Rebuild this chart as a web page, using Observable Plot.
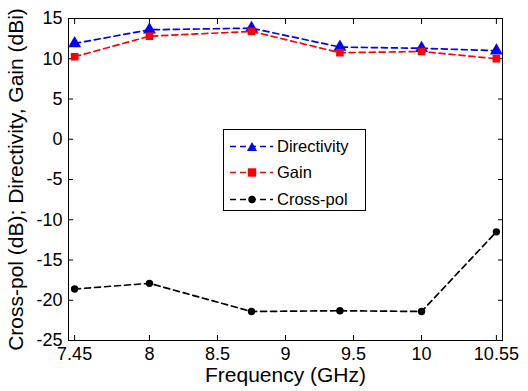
<!DOCTYPE html>
<html><head><meta charset="utf-8">
<script src="https://cdn.jsdelivr.net/npm/d3@7"></script>
<script src="https://cdn.jsdelivr.net/npm/@observablehq/plot@0.6"></script>
<style>
body{margin:0;background:#fff;font-family:"Liberation Sans",Arial,Helvetica,sans-serif;}
#wrap{position:relative;width:528px;height:391px;}
#legend{position:absolute;left:223px;top:129px;width:141px;height:80px;border:1px solid #000;background:#fff;font-size:16.5px;}
.row{position:absolute;left:0;height:20px;display:flex;align-items:center;}
.row svg{margin-left:6px;}
.row span{margin-left:4px;color:#000;}
</style>
</head><body>
<div id="wrap"><div id="legend"></div></div>
<script>
const freq = [7.45, 8, 8.75, 9.4, 10, 10.55];
const directivity = [11.9, 13.6, 13.8, 11.45, 11.3, 11.0];
const gain = [10.25, 12.8, 13.4, 10.75, 10.9, 10.0];
const crossPol = [-18.6, -17.9, -21.4, -21.3, -21.4, -11.5];
const xTicks = [7.45, 8, 8.5, 9, 9.5, 10, 10.55];
const yTicks = [-25, -20, -15, -10, -5, 0, 5, 10, 15];
const seriesNames = ["Directivity", "Gain", "Cross-pol"];
const seriesColors = ["#0000ff", "#ff0000", "#000000"];
const seriesSymbols = ["triangle", "square", "circle"];
const seriesValues = [directivity, gain, crossPol];

const data = seriesNames.flatMap((s, i) => freq.map((f, j) => ({series: s, f, v: seriesValues[i][j]})));
const dash = "6,4";
const marks = [];
seriesNames.forEach((s, i) => {
  const d = data.filter(r => r.series === s);
  marks.push(Plot.line(d, {x: "f", y: "v", stroke: seriesColors[i], strokeWidth: 1.7, strokeDasharray: dash}));
  marks.push(Plot.dot(d, {x: "f", y: "v", fill: seriesColors[i], stroke: "none", symbol: seriesSymbols[i], r: i === 0 ? 4.8 : (i === 1 ? 4.3 : 3.7)}));
});

const chart = Plot.plot({
  width: 528, height: 391,
  marginLeft: 68, marginRight: 26, marginTop: 18, marginBottom: 51,
  style: {fontFamily: "Liberation Sans, Arial, Helvetica, sans-serif", fontSize: "18px", color: "#000", background: "#fff"},
  x: {domain: [7.405, 10.595]},
  y: {domain: [-25, 15]},
  marks: [
    Plot.frame({stroke: "#000", strokeWidth: 1}),
    Plot.axisX(xTicks, {anchor: "bottom", tickSize: -5, tickPadding: 12, tickFormat: d => String(d), fontSize: 18, label: null}),
    Plot.axisX({anchor: "bottom", ticks: [], label: "Frequency (GHz)", labelAnchor: "center", labelArrow: "none", labelOffset: 41, fontSize: 21}),
    Plot.axisX(xTicks, {anchor: "top", tickSize: -5, tickFormat: () => "", label: null}),
    Plot.axisY(yTicks, {anchor: "left", tickSize: -5, tickPadding: 11, tickFormat: d => String(d), fontSize: 18, label: null}),
    Plot.axisY({anchor: "left", ticks: [], label: "Cross-pol (dB); Directivity, Gain (dBi)", labelAnchor: "center", labelArrow: "none", labelOffset: 60, fontSize: 21}),
    Plot.axisY(yTicks, {anchor: "right", tickSize: -5, tickFormat: () => "", label: null}),
    ...marks
  ]
});
document.getElementById("wrap").prepend(chart);

const leg = document.getElementById("legend");
const syms = {
  triangle: '<path d="M22,1 L27,10 L17,10 Z" fill="C"/>',
  square: '<rect x="17.8" y="1.3" width="8.4" height="8.4" fill="C"/>',
  circle: '<circle cx="22" cy="5.5" r="3.7" fill="C"/>'
};
seriesNames.forEach((s, i) => {
  const row = document.createElement("div");
  row.className = "row";
  row.style.top = [6, 32, 59][i] + "px";
  const c = seriesColors[i];
  row.innerHTML = `<svg width="43" height="11"><line x1="0" x2="43" y1="5.5" y2="5.5" stroke="${c}" stroke-width="1.7" stroke-dasharray="${dash}"/>${syms[seriesSymbols[i]].replace("C", c)}</svg><span>${s}</span>`;
  leg.appendChild(row);
});
</script>
</body></html>
